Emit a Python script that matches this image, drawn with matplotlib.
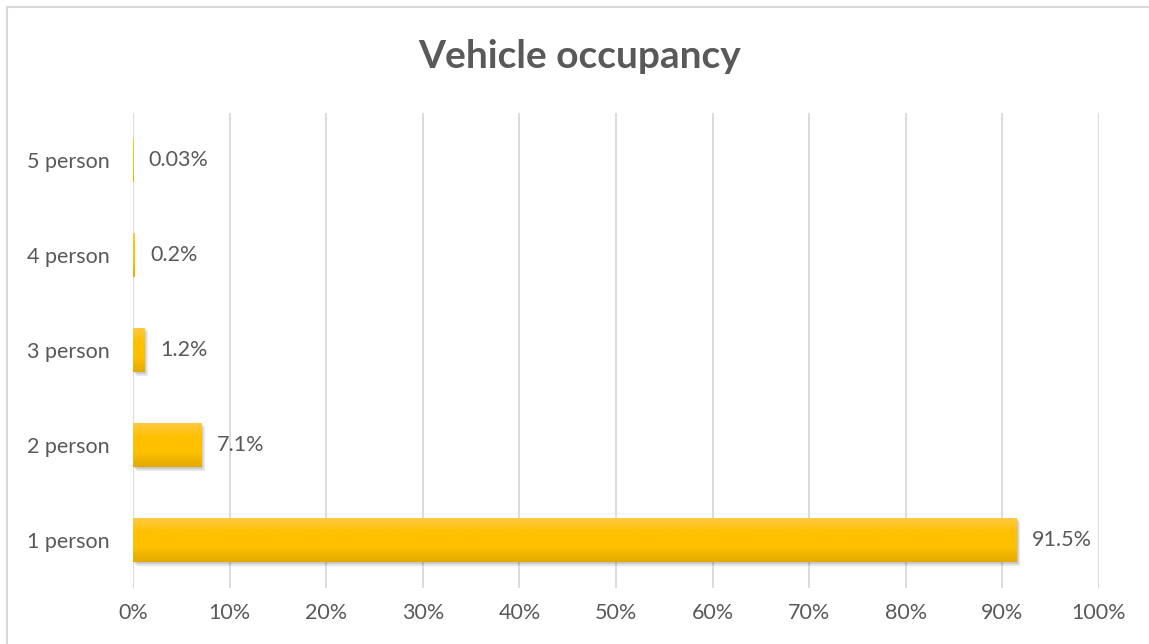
import matplotlib.pyplot as plt
import numpy as np
from matplotlib.patches import Rectangle
from matplotlib.colors import LinearSegmentedColormap
from matplotlib.ticker import FuncFormatter
import matplotlib.transforms as mtransforms

categories = ["1 person", "2 person", "3 person", "4 person", "5 person"]
shares = [91.5, 7.1, 1.2, 0.2, 0.03]
value_labels = ["91.5%", "7.1%", "1.2%", "0.2%", "0.03%"]

plt.rcParams['font.family'] = ['Lato', 'DejaVu Sans']
text_grey = '#595959'

fig = plt.figure(figsize=(11.49, 6.44), dpi=100)
fig.patches.append(Rectangle((7 / 1149, -0.01), 1.02, 1 - 7 / 644 + 0.01,
                             transform=fig.transFigure, fill=False,
                             edgecolor='#d9d9d9', linewidth=1.5))
ax = fig.add_axes([133 / 1149, 1 - 587.5 / 644, 966 / 1149, 475 / 644])

y = np.arange(len(categories))
bar_h = 0.47
gold = LinearSegmentedColormap.from_list(
    'gold', ['#e3aa00', '#ffc000', '#ffc000', '#ffca45'])
grad = np.linspace(0, 1, 64).reshape(-1, 1)

for yi, v in zip(y, shares):
    # soft drop shadow to the lower right, skipped for hairline bars
    if v > 0.5:
        for k in np.linspace(0.3, 1.6, 6):
            sh = Rectangle((0, yi - bar_h / 2), v, bar_h, facecolor='#303030',
                           edgecolor='none', alpha=0.05, zorder=2)
            off = mtransforms.ScaledTranslation(k * 2.2 / 100, -k * 2.6 / 100,
                                                fig.dpi_scale_trans)
            sh.set_transform(ax.transData + off)
            ax.add_patch(sh)
    rect = Rectangle((0, yi - bar_h / 2), v, bar_h, facecolor='none',
                     edgecolor='none', zorder=3)
    ax.add_patch(rect)
    im = ax.imshow(grad, cmap=gold, aspect='auto', origin='lower',
                   extent=[0, v, yi - bar_h / 2, yi + bar_h / 2],
                   zorder=3, interpolation='bilinear')
    im.set_clip_path(rect)

for yi, v, lab in zip(y, shares, value_labels):
    ax.annotate(lab, (v, yi), xytext=(11, 0), textcoords='offset points',
                va='center', ha='left', fontsize=15.5, color=text_grey)

ax.set_xlim(0, 100)
ax.set_ylim(-0.5, len(categories) - 0.5)
ax.set_xticks(np.arange(0, 101, 10))
ax.xaxis.set_major_formatter(FuncFormatter(lambda x, p: f"{x:.0f}%"))
ax.set_yticks(y)
ax.set_yticklabels(categories)
ax.tick_params(axis='both', length=0, labelsize=15.5, colors=text_grey)
ax.tick_params(axis='x', pad=11)
ax.tick_params(axis='y', pad=16.5)
ax.grid(axis='x', color='#d9d9d9', linewidth=1.3, zorder=0)
ax.set_axisbelow(True)
for s in ax.spines.values():
    s.set_visible(False)

fig.text(580 / 1149, 1 - 57 / 644, "Vehicle occupancy", ha='center', va='center',
         fontsize=28, fontweight='bold', color=text_grey)

fig.savefig('out.png', dpi=100)
